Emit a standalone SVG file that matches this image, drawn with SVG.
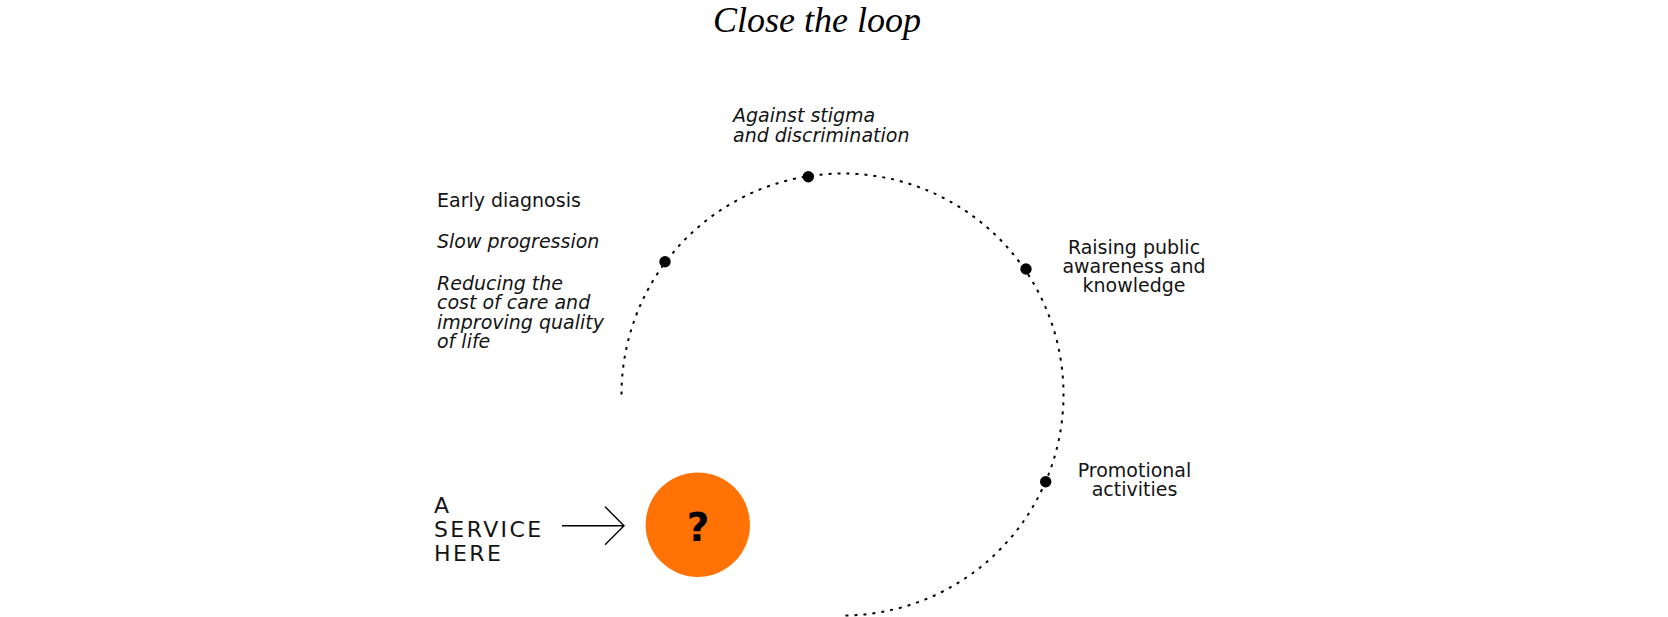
<svg xmlns="http://www.w3.org/2000/svg" width="1668" height="617" viewBox="0 0 1668 617">
  <style>
    .lbl { font-family: "DejaVu Sans", "Liberation Sans", sans-serif; font-size: 19px; fill: #141414; }
    .it { font-style: italic; }
    .mid { text-anchor: middle; }
    .cap { font-size: 22px; letter-spacing: 2.4px; }
    .title { font-family: "Liberation Serif", serif; font-style: italic; font-size: 36px; fill: #000; text-anchor: middle; }
    .dot { fill: #000; }
    .loop { fill: none; stroke: #000; stroke-width: 2; stroke-dasharray: 3 6; }
    .arrow { fill: none; stroke: #000; stroke-width: 1.4; }
  </style>
  <rect width="1668" height="617" fill="#fff"/>
  <text class="title" x="817" y="32">Close the loop</text>

  <g id="connectors">
    <path class="loop" d="M 621.5 394.5 A 221 221 0 1 1 842.5 615.5"/>
    <path class="arrow" d="M 562 525.7 L 624 525.7 M 605 506.7 L 624 525.7 L 605 544.7"/>
  </g>

  <g id="node-early">
    <circle class="dot" cx="665" cy="261.7" r="5.7"/>
    <text class="lbl" x="437" y="206.7">Early diagnosis</text>
    <text class="lbl it" x="437" y="248.3">Slow progression</text>
    <text class="lbl it" x="437" y="290">Reducing the</text>
    <text class="lbl it" x="437" y="309.3">cost of care and</text>
    <text class="lbl it" x="437" y="328.6">improving quality</text>
    <text class="lbl it" x="437" y="347.9">of life</text>
  </g>

  <g id="node-stigma">
    <circle class="dot" cx="808.3" cy="176.7" r="5.7"/>
    <text class="lbl it" x="733" y="122.3">Against stigma</text>
    <text class="lbl it" x="733" y="141.7">and discrimination</text>
  </g>

  <g id="node-awareness">
    <circle class="dot" cx="1026" cy="269" r="5.7"/>
    <text class="lbl mid" x="1134" y="254.3">Raising public</text>
    <text class="lbl mid" x="1134" y="273.3">awareness and</text>
    <text class="lbl mid" x="1134" y="292.3">knowledge</text>
  </g>

  <g id="node-promotional">
    <circle class="dot" cx="1045.7" cy="481.7" r="5.7"/>
    <text class="lbl mid" x="1134.5" y="476.7">Promotional</text>
    <text class="lbl mid" x="1134.5" y="496">activities</text>
  </g>

  <g id="node-service-label">
    <text class="lbl cap" x="434" y="512.7">A</text>
    <text class="lbl cap" x="434" y="536.7">SERVICE</text>
    <text class="lbl cap" x="434" y="560.7">HERE</text>
  </g>

  <g id="node-service">
    <circle cx="697.8" cy="524.7" r="52.2" fill="#FF7306"/>
    <text x="698" y="540.7" text-anchor="middle" style="font-family:'DejaVu Sans','Liberation Sans',sans-serif;font-weight:bold;font-size:39px;fill:#000">?</text>
  </g>
</svg>
